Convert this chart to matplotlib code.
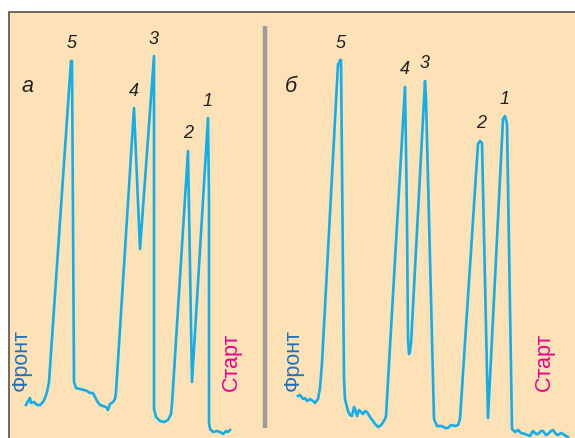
import matplotlib.pyplot as plt
from matplotlib.patches import Rectangle

# chromatogram traces (position, signal height)
pos_a = [26, 28, 30, 31, 34, 37, 40, 43, 45, 47, 49, 71, 72, 73, 74, 76, 80, 84, 87, 90,
         93, 95, 97, 100, 103, 106, 108, 110, 113, 115, 116, 134, 140, 154, 154, 154, 156,
         160, 164, 168, 171, 172, 188, 192, 208, 209, 209, 210, 213,
         217, 220, 223, 226, 228, 230]
sig_a = [33, 37, 40, 35, 36, 33, 33, 36, 40, 46, 56, 377, 377, 219, 56, 50, 49, 48, 47, 45,
         45, 41, 37, 33, 32, 31, 28, 34, 36, 39, 46, 330, 189, 382, 139, 29, 21,
         17, 16, 18, 24, 34, 287, 56, 320, 239, 16, 9, 6,
         7, 6, 4, 7, 6, 8]

pos_b = [298, 300, 303, 305, 307, 310, 313, 315, 318, 320, 322, 338, 339, 340, 341,
         344, 345, 348, 350, 352, 354, 355, 357, 359, 361, 363, 365, 367, 370, 373, 376,
         378, 380, 382, 385, 386, 405, 406, 407, 408, 409, 410, 411,
         425, 426, 434, 437, 442, 445, 448, 451, 455, 458, 460, 478,
         480, 482, 488, 503, 505, 507, 512, 515, 518, 521,
         525, 530, 533, 536, 538, 541, 543, 546, 548, 551, 553, 556, 558, 561, 563, 566, 568]
sig_b = [42, 43, 39, 40, 37, 39, 37, 35, 39, 50, 75, 374, 374, 378, 378,
         59, 39, 27, 23, 22, 31, 29, 22, 28, 26, 24, 27, 26, 21, 17, 13,
         11, 12, 14, 19, 22, 351, 289, 219, 99, 84, 87, 94,
         357, 339, 19, 12, 12, 10, 10, 13, 12, 13, 19, 294,
         297, 295, 20, 319, 322, 314, 9, 6, 8, 5,
         4, 2, 7, 4, 4, 7, 7, 3, 4, 7, 8, 4, 3, 5, 4, 2, 1]

# peak tops and their numbers
peak_labels = ['5', '4', '3', '2', '1']
peak_pos_a = [71.5, 134, 154, 188, 208]
peak_sig_a = [377, 330, 382, 287, 320]
peak_pos_b = [340.5, 405, 425, 481, 505]
peak_sig_b = [378, 351, 357, 297, 322]

line_col = '#13aee9'
bg_col = '#fde2b8'

fig = plt.figure(figsize=(5.75, 4.39), dpi=100)
ax = fig.add_axes([0, 0, 1, 1])
ax.set_xlim(0, 575)
ax.set_ylim(0, 439)
ax.axis('off')

# peach panel with dark frame (top and left visible)
ax.add_patch(Rectangle((8.5, -10), 600, 436.5, facecolor=bg_col,
                       edgecolor='#4a433e', linewidth=1.1, zorder=0))
# divider between panels
ax.plot([265, 265], [10, 412], color='#9c9c9c', linewidth=3.2, solid_capstyle='butt')

txt = dict(family='Liberation Sans')
for pos, sig, ppos, psig in [(pos_a, sig_a, peak_pos_a, peak_sig_a),
                             (pos_b, sig_b, peak_pos_b, peak_sig_b)]:
    ax.plot(pos, sig, color=line_col, linewidth=1.9, solid_joinstyle='round')
    for lab, x, y in zip(peak_labels, ppos, psig):
        ax.annotate(lab, (x, y), xytext=(0, 18), textcoords='offset pixels',
                    ha='center', va='center', fontsize=13, style='italic',
                    color='#231f20', **txt)

ax.text(28, 353, 'а', ha='center', va='center', fontsize=15.5, style='italic',
        color='#231f20', **txt)
ax.text(291, 352, 'б', ha='center', va='center', fontsize=15.5, style='italic',
        color='#231f20', **txt)

for x in [21, 293]:
    ax.text(x, 79, 'Фронт', rotation=90, ha='center', va='center', fontsize=15.5,
            color='#1c74bb', **txt)
for x in [231, 544]:
    ax.text(x, 77, 'Старт', rotation=90, ha='center', va='center', fontsize=15.5,
            color='#ec008c', **txt)

fig.savefig('out.png', dpi=100)
